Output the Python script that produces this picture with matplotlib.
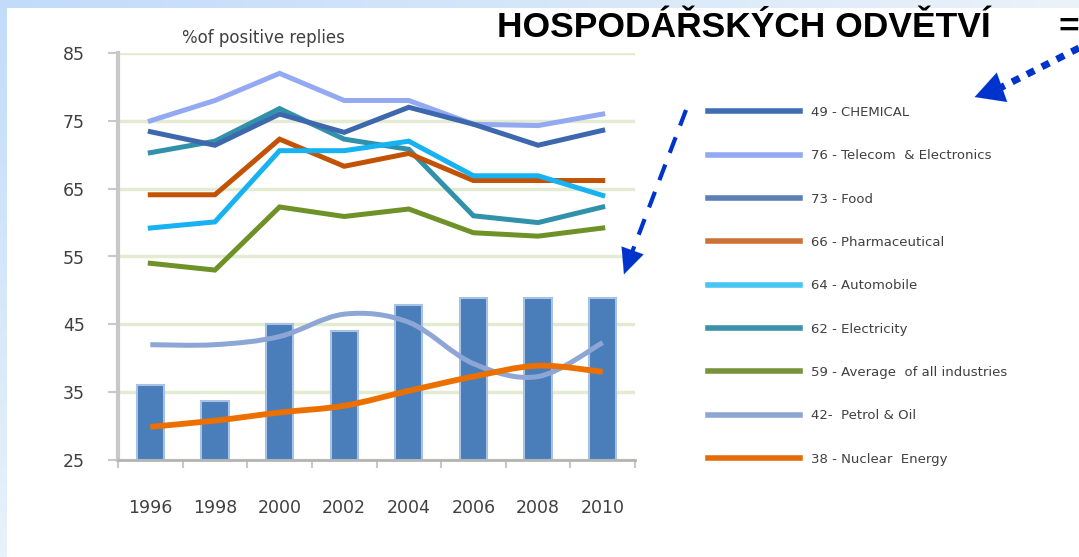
import matplotlib.pyplot as plt
import numpy as np
from matplotlib.lines import Line2D
from matplotlib.patches import FancyArrowPatch, PathPatch
from matplotlib.path import Path

# data
years = ["1996", "1998", "2000", "2002", "2004", "2006", "2008", "2010"]

chemical = [36, 33.7, 45.1, 44, 47.8, 48.9, 48.9, 48.9]   # bars
telecom = [75, 78, 82, 78, 78, 74.5, 74.3, 76]
food = [73.4, 71.4, 76, 73.3, 77, 74.5, 71.4, 73.6]
pharma = [64.1, 64.1, 72.3, 68.3, 70.2, 66.2, 66.2, 66.2]
auto = [59.2, 60.1, 70.6, 70.6, 72, 66.9, 66.9, 64]
electricity = [70.3, 72, 76.8, 72.3, 70.8, 61, 60, 62.3]
average = [54, 53, 62.3, 60.9, 62, 58.5, 58, 59.2]
petrol = [42, 42, 43.2, 46.5, 45.3, 39.2, 37.3, 42.3]
nuclear = [29.9, 30.8, 32, 33, 35.2, 37.3, 38.9, 38]

legend_labels = ["49 - CHEMICAL", "76 - Telecom  & Electronics", "73 - Food",
                 "66 - Pharmaceutical", "64 - Automobile", "62 - Electricity",
                 "59 - Average  of all industries", "42-  Petrol & Oil",
                 "38 - Nuclear  Energy"]

yticks = [25, 35, 45, 55, 65, 75, 85]

W, H = 1079, 557
fig = plt.figure(figsize=(W / 100, H / 100), dpi=100)


def px(x, y):
    # pixel position measured from top-left -> figure fraction
    return x / W, 1 - y / H


# light blue frame at the left and top
bg = fig.add_axes([0, 0, 1, 1], zorder=-10)
img = np.ones((H, W, 3))
left = np.linspace(0, 1, H)[:, None]
img[:, :7, 0] = (0.76 + 0.15 * left)
img[:, :7, 1] = (0.86 + 0.09 * left)
img[:, :7, 2] = 0.98
top = np.linspace(0, 1, W)[None, :]
img[:8, :, 0] = 0.76 + 0.16 * top
img[:8, :, 1] = 0.86 + 0.09 * top
img[:8, :, 2] = 0.98
bg.imshow(img, aspect="auto", extent=[0, 1, 0, 1])
bg.axis("off")

ax = fig.add_axes([118 / W, 1 - 460 / H, 517 / W, 407 / H])
x = np.arange(len(years))

ax.bar(x, np.array(chemical) - 25, bottom=25, width=0.42, color="#4a7ebb",
       edgecolor="#a9c1e3", linewidth=1.5, zorder=2)


def smooth(ax, xs, ys, color, lw):
    # Excel-like smoothed line (Catmull-Rom as cubic Bezier)
    pts = np.column_stack([xs, ys]).astype(float)
    verts = [pts[0]]
    codes = [Path.MOVETO]
    for i in range(len(pts) - 1):
        p0 = pts[max(i - 1, 0)]
        p1 = pts[i]
        p2 = pts[i + 1]
        p3 = pts[min(i + 2, len(pts) - 1)]
        verts += [p1 + (p2 - p0) / 6, p2 - (p3 - p1) / 6, p2]
        codes += [Path.CURVE4] * 3
    ax.add_patch(PathPatch(Path(verts, codes), facecolor="none", edgecolor=color,
                           lw=lw, zorder=3, capstyle="butt"))


lines = [
    (telecom, "#93a9f2"),
    (electricity, "#3191aa"),
    (food, "#3d68ae"),
    (pharma, "#c25304"),
    (auto, "#16b2f2"),
    (average, "#6e9128"),
]
for vals, c in lines:
    ax.plot(x, vals, color=c, lw=3.6, zorder=3, solid_joinstyle="miter")

smooth(ax, x, petrol, "#8da6d6", 3.6)
smooth(ax, x, nuclear, "#ec7000", 4.2)

ax.set_xlim(-0.5, 7.5)
ax.set_ylim(25, 85)
ax.set_yticks(yticks)
ax.set_yticklabels([str(v) for v in yticks], fontsize=12.5, color="#404040")
ax.set_xticks(x)
ax.set_xticklabels(years, fontsize=12.5, color="#404040")
ax.set_xticks(np.arange(-0.5, 8, 1), minor=True)
ax.tick_params(axis="x", which="major", length=0, pad=28)
ax.tick_params(axis="x", which="minor", length=6, color="#c8c8c8", width=1.5)
ax.tick_params(axis="y", length=7, color="#c8c8c8", width=1.5, pad=17)
ax.grid(axis="y", color="#e4ebd3", lw=2.5, zorder=0)
ax.set_axisbelow(True)
for s in ["top", "right"]:
    ax.spines[s].set_visible(False)
ax.spines["left"].set_color("#c8c8c8")
ax.spines["left"].set_linewidth(3)
ax.spines["bottom"].set_color("#b4b4b4")
ax.spines["bottom"].set_linewidth(2)

fig.text(*px(263, 38), "%of positive replies", fontsize=12, color="#404040",
         ha="center", va="center")

# legend
leg_colors = ["#3e6fb3", "#93a9f2", "#5a80b6", "#cd7235", "#48c5f2",
              "#3a91a9", "#77933c", "#8da6d6", "#e36c09"]
handles = [Line2D([], [], color=c, lw=4) for c in leg_colors]
fig.legend(handles, legend_labels, loc="upper left",
           bbox_to_anchor=px(696, 94), frameon=False, fontsize=9.5,
           labelcolor="#404040", handlelength=7.0, handletextpad=0.8,
           labelspacing=2.3)

# heading text
fig.text(*px(497, 37), "HOSPODÁŘSKÝCH ODVĚTVÍ", fontsize=25.5,
         family="Liberation Sans", weight="bold", va="baseline", ha="left")
fig.text(*px(1058, 37), "=", fontsize=25.5, family="Liberation Sans",
         weight="bold", va="baseline", ha="left")

# blue arrows
blue = "#0033cc"
fig.add_artist(Line2D([px(1079, 48)[0], px(1000, 88)[0]],
                      [px(1079, 48)[1], px(1000, 88)[1]],
                      color=blue, lw=5, linestyle=(0, (1.2, 1.2))))
fig.add_artist(FancyArrowPatch(px(1000, 88), px(972, 98), transform=fig.transFigure,
                               arrowstyle="-|>,head_length=1.3,head_width=0.7",
                               mutation_scale=16, color=blue, lw=0.1))
fig.add_artist(Line2D([px(686, 110)[0], px(631, 255)[0]],
                      [px(686, 110)[1], px(631, 255)[1]],
                      color=blue, lw=3, linestyle=(0, (4, 3))))
fig.add_artist(FancyArrowPatch(px(632, 252), px(623, 277), transform=fig.transFigure,
                               arrowstyle="-|>,head_length=1.3,head_width=0.6",
                               mutation_scale=14, color=blue, lw=0.1))

fig.savefig("out.png", dpi=100)
